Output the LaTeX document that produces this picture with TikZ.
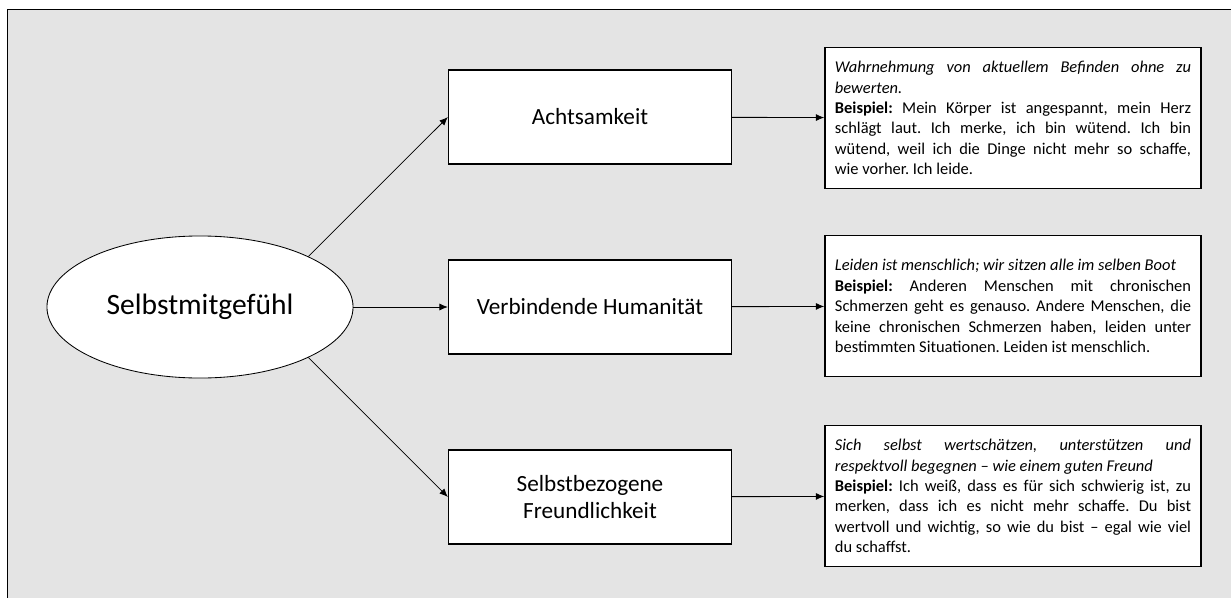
\documentclass[tikz,border=0pt]{standalone}
\usepackage{fontspec}
\setmainfont{Carlito}
\usetikzlibrary{shapes.geometric,arrows.meta}
\definecolor{hintergrund}{RGB}{228,228,228}
\hyphenpenalty=10000
\frenchspacing
\tikzset{
  kern/.style={draw,ellipse,fill=white,semithick,minimum width=7.65cm,minimum height=3.55cm,inner sep=0pt,font=\fontsize{21}{25}\selectfont},
  saeule/.style={draw,fill=white,thick,minimum width=7.075cm,minimum height=2.35cm,align=center,font=\fontsize{16.5}{19.5}\selectfont},
  erklaerung/.style={draw,fill=white,line width=1pt,text width=8.9cm,minimum height=3.525cm,inner xsep=0.25cm,align=justify,
    font=\fontsize{11.7}{14.5}\selectfont},
  pfeil/.style={-{Latex[length=6pt,width=5pt]},semithick}
}
\begin{document}
\begin{tikzpicture}[x=0.025cm,y=-0.025cm]
\useasboundingbox (0,0) rectangle (1231,598);

% Rahmen
\fill[hintergrund] (7,9) rectangle (1231,598);
\draw[semithick] (7,598) -- (7,9) -- (1231,9);

% Selbstmitgefuehl
\node[kern] (selbst) at (200,307) {Selbstmitgefühl};

% drei Komponenten
\node[saeule] (achts) at (590,117) {Achtsamkeit};
\node[saeule] (human) at (590,307) {Verbindende Humanität};
\node[saeule] (freund) at (590,497) {Selbstbezogene\\Freundlichkeit};

% Erklaerungen
\node[erklaerung] (achtsText) at (1013,118) {%
  \textit{Wahrnehmung von aktuellem Befinden ohne zu\linebreak bewerten.}\\
  \textbf{Beispiel:} Mein Körper ist angespannt, mein Herz\linebreak schlägt laut. Ich merke, ich bin wütend. Ich bin\linebreak wütend, weil ich die Dinge nicht mehr so schaffe,\linebreak wie vorher. Ich leide.};
\node[erklaerung] (humanText) at (1013,306) {%
  \textit{Leiden ist menschlich; wir sitzen alle im selben Boot}\\
  \textbf{Beispiel:} Anderen Menschen mit chronischen\linebreak Schmerzen geht es genauso. Andere Menschen, die\linebreak keine chronischen Schmerzen haben, leiden unter\linebreak bestimmten Situationen. Leiden ist menschlich.};
\node[erklaerung] (freundText) at (1013,496) {%
  \textit{Sich selbst wertschätzen, unterstützen und\linebreak respektvoll begegnen – wie einem guten Freund}\\
  \textbf{Beispiel:} Ich weiß, dass es für sich schwierig ist, zu\linebreak merken, dass ich es nicht mehr schaffe. Du bist\linebreak wertvoll und wichtig, so wie du bist – egal wie viel\linebreak du schaffst.};

% Pfeile
\draw[pfeil] (selbst.25) -- (achts.west);
\draw[pfeil] (selbst) -- (human);
\draw[pfeil] (selbst.-25) -- (freund.west);
\draw[pfeil] (achts) -- (achtsText);
\draw[pfeil] (human) -- (humanText);
\draw[pfeil] (freund) -- (freundText);

\end{tikzpicture}
\end{document}
